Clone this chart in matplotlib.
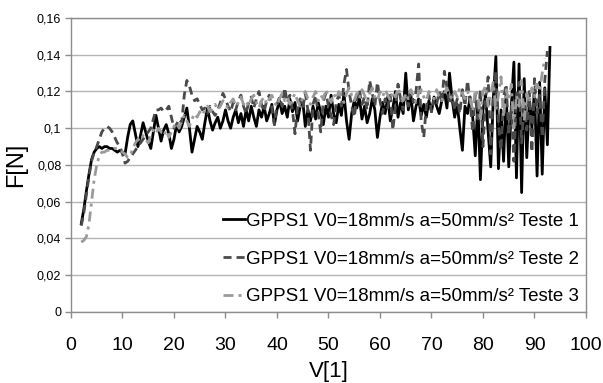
import numpy as np
import matplotlib
matplotlib.use('Agg')
import matplotlib.pyplot as plt

plt.rcParams['font.family'] = ['Liberation Sans', 'DejaVu Sans']

# V[1] sampled every 0.5 from V=2
v_start = 2.0
v_step = 0.5

# Teste 1 (solid black)
f_teste1 = [
    0.048, 0.056, 0.066, 0.075, 0.083, 0.087, 0.089, 0.090, 0.089, 0.090,
    0.090, 0.089, 0.089, 0.088, 0.087, 0.088, 0.087, 0.086, 0.095, 0.102,
    0.104, 0.097, 0.090, 0.096, 0.103, 0.098, 0.093, 0.089, 0.098, 0.107,
    0.100, 0.093, 0.099, 0.102, 0.097, 0.089, 0.094, 0.102, 0.098, 0.101,
    0.106, 0.111, 0.100, 0.087, 0.094, 0.101, 0.098, 0.094, 0.103, 0.111,
    0.104, 0.099, 0.103, 0.106, 0.100, 0.104, 0.110, 0.104, 0.100, 0.106,
    0.110, 0.103, 0.108, 0.101, 0.110, 0.104, 0.112, 0.106, 0.101, 0.110,
    0.106, 0.112, 0.104, 0.108, 0.113, 0.102, 0.110, 0.115, 0.108, 0.112,
    0.106, 0.116, 0.109, 0.114, 0.104, 0.112, 0.115, 0.101, 0.110, 0.104,
    0.112, 0.105, 0.114, 0.109, 0.102, 0.112, 0.106, 0.118, 0.108, 0.103,
    0.113, 0.107, 0.119, 0.104, 0.094, 0.108, 0.115, 0.111, 0.117, 0.105,
    0.112, 0.103, 0.108, 0.116, 0.110, 0.095, 0.106, 0.114, 0.108, 0.117,
    0.104, 0.111, 0.120, 0.106, 0.114, 0.108, 0.130, 0.110, 0.118, 0.104,
    0.112, 0.116, 0.107, 0.113, 0.106, 0.115, 0.109, 0.117, 0.112, 0.108,
    0.115, 0.120, 0.111, 0.130, 0.116, 0.106, 0.113, 0.100, 0.088, 0.112,
    0.108, 0.117, 0.106, 0.085, 0.114, 0.072, 0.110, 0.118, 0.098, 0.079,
    0.116, 0.139, 0.078, 0.110, 0.082, 0.120, 0.079, 0.112, 0.136, 0.073,
    0.135, 0.065, 0.127, 0.084, 0.116, 0.100, 0.121, 0.074, 0.125, 0.075,
    0.122, 0.091, 0.144,
]

# Teste 2 (dark grey dashes)
f_teste2 = [
    0.047, 0.054, 0.064, 0.074, 0.082, 0.087, 0.090, 0.094, 0.098, 0.100,
    0.101, 0.100, 0.098, 0.095, 0.092, 0.090, 0.086, 0.081, 0.082, 0.084,
    0.086, 0.088, 0.090, 0.092, 0.094, 0.096, 0.098, 0.100, 0.105, 0.110,
    0.110, 0.111, 0.109, 0.110, 0.112, 0.106, 0.100, 0.102, 0.105, 0.103,
    0.118, 0.126, 0.123, 0.118, 0.115, 0.116, 0.113, 0.110, 0.111, 0.108,
    0.112, 0.109, 0.107, 0.110, 0.114, 0.119, 0.116, 0.112, 0.109, 0.114,
    0.110, 0.115, 0.118, 0.112, 0.108, 0.114, 0.117, 0.111, 0.116, 0.120,
    0.113, 0.109, 0.115, 0.118, 0.111, 0.102, 0.113, 0.117, 0.112, 0.122,
    0.114, 0.118, 0.110, 0.097, 0.112, 0.116, 0.111, 0.119, 0.110, 0.088,
    0.113, 0.118, 0.108, 0.098, 0.115, 0.119, 0.112, 0.107, 0.102, 0.114,
    0.118, 0.112, 0.124, 0.132, 0.120, 0.112, 0.106, 0.116, 0.121, 0.113,
    0.117, 0.110, 0.126, 0.119, 0.112, 0.125, 0.115, 0.108, 0.116, 0.111,
    0.118, 0.099, 0.112, 0.124, 0.116, 0.110, 0.118, 0.112, 0.120, 0.114,
    0.120, 0.135, 0.104, 0.095, 0.112, 0.118, 0.109, 0.116, 0.113, 0.120,
    0.114, 0.131, 0.122, 0.113, 0.118, 0.110, 0.116, 0.108, 0.121, 0.112,
    0.126, 0.114, 0.098, 0.118, 0.105, 0.121, 0.090, 0.116, 0.128, 0.086,
    0.119, 0.131, 0.102, 0.088, 0.117, 0.124, 0.096, 0.112, 0.082, 0.118,
    0.125, 0.092, 0.114, 0.099, 0.120, 0.087, 0.127, 0.108, 0.118, 0.095,
    0.126, 0.142,
]

# Teste 3 (light grey dash-dot)
f_teste3 = [
    0.038, 0.039, 0.041, 0.048, 0.060, 0.072, 0.080, 0.085, 0.087, 0.087,
    0.088, 0.088, 0.088, 0.089, 0.089, 0.088, 0.087, 0.086, 0.084, 0.085,
    0.089, 0.092, 0.094, 0.093, 0.096, 0.094, 0.092, 0.096, 0.099, 0.097,
    0.100, 0.098, 0.096, 0.099, 0.095, 0.098, 0.101, 0.103, 0.100, 0.104,
    0.107, 0.104, 0.101, 0.105, 0.108, 0.106, 0.109, 0.107, 0.110, 0.112,
    0.109, 0.111, 0.113, 0.110, 0.112, 0.115, 0.113, 0.111, 0.114, 0.116,
    0.112, 0.114, 0.117, 0.113, 0.115, 0.112, 0.116, 0.118, 0.114, 0.111,
    0.115, 0.117, 0.113, 0.116, 0.118, 0.114, 0.112, 0.116, 0.119, 0.115,
    0.117, 0.113, 0.116, 0.119, 0.115, 0.112, 0.117, 0.120, 0.116, 0.113,
    0.117, 0.120, 0.115, 0.118, 0.116, 0.121, 0.117, 0.114, 0.119, 0.116,
    0.120, 0.117, 0.114, 0.119, 0.122, 0.118, 0.115, 0.119, 0.116, 0.121,
    0.118, 0.114, 0.119, 0.122, 0.117, 0.115, 0.120, 0.117, 0.121, 0.118,
    0.115, 0.120, 0.117, 0.122, 0.118, 0.115, 0.119, 0.116, 0.121, 0.117,
    0.114, 0.119, 0.121, 0.117, 0.115, 0.120, 0.118, 0.116, 0.121, 0.117,
    0.115, 0.119, 0.122, 0.118, 0.116, 0.120, 0.117, 0.122, 0.119, 0.116,
    0.120, 0.117, 0.109, 0.121, 0.118, 0.104, 0.120, 0.123, 0.112, 0.119,
    0.125, 0.110, 0.118, 0.128, 0.106, 0.121, 0.115, 0.124, 0.100, 0.118,
    0.112, 0.126, 0.104, 0.119, 0.114, 0.122, 0.117, 0.124, 0.120, 0.130,
    0.138,
]

labels = ['GPPS1 V0=18mm/s a=50mm/s² Teste 1',
          'GPPS1 V0=18mm/s a=50mm/s² Teste 2',
          'GPPS1 V0=18mm/s a=50mm/s² Teste 3']
y_ticks = [0, 0.02, 0.04, 0.06, 0.08, 0.1, 0.12, 0.14, 0.16]
y_ticklabels = ['0', '0,02', '0,04', '0,06', '0,08', '0,1', '0,12', '0,14', '0,16']
x_ticks = [0, 10, 20, 30, 40, 50, 60, 70, 80, 90, 100]


def v_axis(values):
    return v_start + v_step * np.arange(len(values))


fig = plt.figure(figsize=(6.03, 3.83), dpi=100)
ax = fig.add_axes([0.1177, 0.1854, 0.8541, 0.7676])

ax.plot(v_axis(f_teste1), f_teste1, color='black', lw=2.0, label=labels[0])
ax.plot(v_axis(f_teste2), f_teste2, color='#4a4a4a', lw=2.0,
        ls=(0, (2.9, 1.8)), label=labels[1])
ax.plot(v_axis(f_teste3), f_teste3, color='#9a9a9a', lw=2.0,
        ls=(0, (3.6, 1.8, 1.1, 1.8)), label=labels[2])

ax.set_xlim(0, 100)
ax.set_ylim(0, 0.16)
ax.set_yticks(y_ticks)
ax.set_yticklabels(y_ticklabels, fontsize=9)
ax.set_xticks(x_ticks)
ax.set_xticklabels([str(t) for t in x_ticks], fontsize=14)
ax.grid(axis='y', color='#b4b4b4', lw=1)
ax.set_axisbelow(True)
for s in ax.spines.values():
    s.set_color('#8c8c8c')
    s.set_linewidth(1)
ax.tick_params(axis='both', colors='#8c8c8c', length=4, width=1)
ax.tick_params(axis='x', labelcolor='black', pad=14)
ax.tick_params(axis='y', labelcolor='black', pad=3)

ax.set_xlabel('V[1]', fontsize=16, labelpad=5)
ax.set_ylabel('F[N]', fontsize=17)
ax.yaxis.set_label_coords(-0.085, 0.5)

leg = ax.legend(loc='lower right', bbox_to_anchor=(1, 0), borderaxespad=0,
                fontsize=13.5, frameon=True, fancybox=False, framealpha=0,
                handlelength=1.15, handletextpad=0.1, labelspacing=1.1,
                borderpad=0.35)
leg.get_frame().set_edgecolor('#8c8c8c')
leg.get_frame().set_linewidth(1)
leg.get_frame().set_facecolor('none')

fig.savefig('out.png', dpi=100)
